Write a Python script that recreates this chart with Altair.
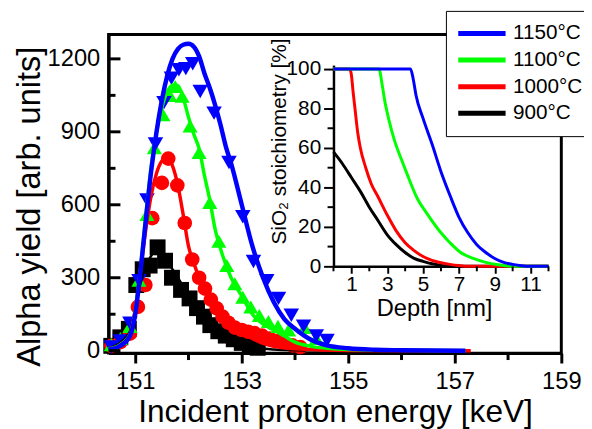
import altair as alt
import pandas as pd

FONT = "Liberation Sans"

# ---------------- series definitions ----------------
SERIES = ["1150°C", "1100°C", "1000°C", "900°C"]          # legend order
COLORS = ["#0000ff", "#00ff00", "#ff0000", "#000000"]
SHAPES = ["triangle-down", "triangle-up", "circle", "square"]
MSIZES = [260, 260, 220, 175]
LWIDTHS = [4.5, 3.5, 3.5, 2.5]
DRAW_ORDER = ["900°C", "1000°C", "1100°C", "1150°C"]

# ---------------- measured alpha yields (markers) ----------------
e_900 = [150.55, 150.72, 150.88, 151.02, 151.14, 151.27, 151.42, 151.56, 151.69,
         151.86, 152.02, 152.16, 152.29, 152.41, 152.56, 152.70, 152.85, 153.00,
         153.15, 153.30]
y_900 = [20, 55, 90, 270, 335, 350, 425, 370, 300, 250, 215, 175, 140, 105, 80,
         62, 47, 32, 20, 12]

e_1000 = [150.55, 150.72, 150.90, 151.05, 151.19, 151.32, 151.50, 151.62, 151.79,
          151.93, 152.07, 152.20, 152.31, 152.42, 152.53, 152.64, 152.75, 152.87,
          153.00, 153.12, 153.24, 153.38, 153.52, 153.66, 153.80, 153.95, 154.10]
y_1000 = [20, 35, 70, 180, 270, 545, 690, 790, 680, 525, 375, 300, 255, 210, 174,
          140, 115, 95, 85, 78, 72, 62, 50, 40, 30, 22, 15]

e_1100 = [150.55, 150.72, 150.90, 151.07, 151.22, 151.36, 151.52, 151.65, 151.75,
          151.88, 152.03, 152.20, 152.40, 152.57, 152.72, 152.87, 153.02, 153.17,
          153.33, 153.50, 153.68, 153.88, 154.18, 154.40]
y_1100 = [25, 50, 100, 290, 560, 835, 970, 1050, 1086, 1046, 924, 815, 610, 450,
          350, 275, 220, 180, 145, 120, 100, 85, 95, 50]

e_1150 = [150.55, 150.72, 150.90, 151.07, 151.22, 151.38, 151.54, 151.68, 151.82,
          151.95, 152.08, 152.22, 152.48, 152.76, 153.02, 153.22, 153.47, 153.69,
          153.93, 154.16, 154.40, 154.60]
y_1150 = [15, 40, 113, 288, 620, 850, 1020, 1120, 1155, 1160, 1180, 1066, 977, 774,
          551, 367, 288, 215, 146, 101, 61, 42]

# ---------------- fitted curves (lines) ----------------
fe_900 = [150.5, 150.7, 150.9, 151.0, 151.1, 151.2, 151.3, 151.4, 151.5, 151.6,
          151.8, 152.0, 152.2, 152.4, 152.6, 152.8, 153.0, 153.3, 153.6, 154.0, 155.0]
fy_900 = [10, 30, 80, 170, 280, 350, 390, 420, 410, 370, 300, 230, 170, 120, 80,
          50, 30, 12, 5, 2, 0]

fe_1000 = [150.5, 150.7, 150.9, 151.0, 151.1, 151.2, 151.3, 151.4, 151.5, 151.6,
           151.7, 151.8, 151.9, 152.0, 152.1, 152.2, 152.4, 152.6, 152.8, 153.0,
           153.2, 153.4, 153.6, 154.0, 154.5, 155.0, 157.3]
fy_1000 = [8, 22, 65, 170, 330, 500, 640, 730, 780, 795, 760, 680, 560, 430, 360,
           300, 215, 160, 115, 80, 50, 30, 18, 8, 3, 1, 0]

fe_1100 = [150.5, 150.7, 150.9, 151.0, 151.1, 151.2, 151.3, 151.4, 151.5, 151.6,
           151.7, 151.8, 151.9, 152.0, 152.1, 152.2, 152.3, 152.4, 152.5, 152.6,
           152.8, 153.0, 153.2, 153.4, 153.6, 153.8, 154.0, 154.3, 154.6, 155.0,
           156.0, 157.2]
fy_1100 = [8, 22, 65, 160, 340, 560, 760, 900, 1000, 1065, 1092, 1090, 1040, 960,
           890, 830, 720, 620, 500, 420, 300, 225, 150, 110, 85, 60, 35, 18, 10, 5,
           2, 0]

fe_1150 = [150.5, 150.7, 150.9, 151.0, 151.1, 151.2, 151.3, 151.4, 151.5, 151.6,
           151.7, 151.8, 151.9, 152.0, 152.1, 152.2, 152.3, 152.4, 152.5, 152.6,
           152.7, 152.8, 153.0, 153.2, 153.4, 153.6, 153.8, 154.0, 154.3, 154.6,
           155.0, 155.5, 156.0, 157.2]
fy_1150 = [5, 18, 60, 150, 330, 540, 740, 900, 1030, 1130, 1200, 1240, 1258, 1262,
           1250, 1210, 1140, 1080, 1010, 930, 840, 770, 600, 430, 300, 200, 130, 90,
           45, 22, 10, 4, 2, 0]

# ---------------- inset: SiO2 stoichiometry vs depth ----------------
d_900 = [0, 0.5, 1.0, 1.5, 2.0, 2.5, 3.0, 3.5, 4.0, 4.5, 5.0, 5.5, 6.0, 6.5, 12]
s_900 = [58, 52, 45, 38, 30, 23, 16, 11, 7, 4, 2.5, 1.3, 0.6, 0, 0]

d_1000 = [0, 0.9, 1.0, 1.1, 1.2, 1.35, 1.5, 1.8, 2.1, 2.5, 3.0, 3.5, 4.0, 4.5, 5.0,
          5.5, 6.0, 6.5, 7.0, 7.5, 12]
s_1000 = [100, 100, 97, 88, 80, 68, 60, 50, 42, 35, 26, 18, 12, 8, 5, 3, 1.8, 1,
          0.4, 0, 0]

d_1100 = [0, 2.55, 2.7, 2.86, 3.1, 3.4, 3.8, 4.1, 4.7, 5.2, 6.0, 6.5, 7.1, 7.8, 8.5,
          9.2, 10, 12]
s_1100 = [100, 100, 93, 84, 74, 64, 54, 47, 34, 27, 17, 12, 7, 4, 2, 0.8, 0, 0]

d_1150 = [0, 4.3, 4.45, 4.6, 5.0, 5.5, 6.0, 6.5, 7.0, 7.5, 8.0, 8.5, 9.0, 9.5, 10.0,
          10.5, 11, 12]
s_1150 = [100, 100, 95, 87, 75, 62, 48, 36, 25, 17, 11, 7, 4, 2, 1, 0.3, 0, 0]

# axis tick values
x_major = [151, 153, 155, 157, 159]
x_minor = [152, 154, 156, 158]
y_major = [0, 300, 600, 900, 1200]
y_minor = [150, 450, 750, 1050]
inset_x_major = [1, 3, 5, 7, 9, 11]
inset_x_minor = [0, 2, 4, 6, 8, 10, 12]
inset_y_major = [0, 20, 40, 60, 80, 100]
inset_y_minor = [10, 30, 50, 70, 90]

# ---------------- build tables ----------------
pts = {"900°C": (e_900, y_900), "1000°C": (e_1000, y_1000),
       "1100°C": (e_1100, y_1100), "1150°C": (e_1150, y_1150)}
fits = {"900°C": (fe_900, fy_900), "1000°C": (fe_1000, fy_1000),
        "1100°C": (fe_1100, fy_1100), "1150°C": (fe_1150, fy_1150)}
ins = {"900°C": (d_900, s_900), "1000°C": (d_1000, s_1000),
       "1100°C": (d_1100, s_1100), "1150°C": (d_1150, s_1150)}

pts_df = pd.DataFrame([{"T": t, "E": e, "Y": y} for t in DRAW_ORDER
                       for e, y in zip(*pts[t])])

# ranges for data-driven (alphabetically sorted) nominal domains
SORTED = sorted(SERIES)
S_COLORS = [COLORS[SERIES.index(s)] for s in SORTED]
S_SHAPES = [SHAPES[SERIES.index(s)] for s in SORTED]
S_SIZES = [MSIZES[SERIES.index(s)] for s in SORTED]

W, H = 459, 323


def xs():
    return alt.Scale(domain=[150.5, 159], nice=False, zero=False)


def ys():
    return alt.Scale(domain=[-10, 1300], nice=False, zero=False)


def ixs():
    return alt.Scale(domain=[0, 12], range=[228, 446], nice=False, zero=False)


def iys():
    return alt.Scale(domain=[0, 102], range=[235, 31], nice=False, zero=False)


def cs():
    return alt.Scale(domain=SERIES, range=COLORS)


x_axis = alt.Axis(orient="bottom", values=x_major, format="d", tickSize=10,
                  tickWidth=3, labelFontSize=24, labelPadding=7, labelFlush=False,
                  labelOverlap=False, domainWidth=3,
                  title="Incident proton energy [keV]", titleFontSize=32,
                  titleX=W / 2, titleY=69, titleBaseline="alphabetic",
                  titleAlign="center")
y_axis = alt.Axis(orient="left", values=y_major, format="d", ticks=False,
                  labelPadding=9, labelFontSize=24, labelFlush=False,
                  labelOverlap=False, domainWidth=3,
                  title="Alpha yield [arb. units]", titleFontSize=33,
                  titleX=-70, titleY=174, titleBaseline="alphabetic",
                  titleAlign="center")

layers = []

points = alt.Chart(pts_df).mark_point(filled=True, opacity=1, strokeWidth=0).encode(
    x=alt.X("E:Q", scale=xs(), axis=x_axis),
    y=alt.Y("Y:Q", scale=ys(), axis=y_axis),
    fill=alt.Fill("T:N", scale=alt.Scale(range=S_COLORS), legend=None),
    shape=alt.Shape("T:N", scale=alt.Scale(range=S_SHAPES), legend=None),
    size=alt.Size("T:N", scale=alt.Scale(range=S_SIZES), legend=None),
)
layers.append(points)


def make_legend():
    return alt.Legend(orient="none", legendX=342, legendY=-24, direction="vertical",
                      title=None, symbolType="stroke", symbolSize=2304,
                      symbolStrokeWidth=5, clipHeight=25.7, rowPadding=1,
                      labelFontSize=21, labelOffset=5, padding=10,
                      strokeColor="black", fillColor="white", labelLimit=200)


for t in DRAW_ORDER:
    fdf = pd.DataFrame({"T": t, "E": fits[t][0], "Y": fits[t][1]})
    layers.append(
        alt.Chart(fdf).mark_line(interpolate="monotone",
                                 strokeWidth=LWIDTHS[SERIES.index(t)]).encode(
            x=alt.X("E:Q", scale=xs(), axis=None),
            y=alt.Y("Y:Q", scale=ys(), axis=None),
            color=alt.Color("T:N", scale=cs(), legend=make_legend()),
        )
    )

layers.append(alt.Chart(pd.DataFrame({"v": x_minor})).mark_rule(
    color="black", strokeWidth=3).encode(
    x=alt.X("v:Q", scale=xs(), axis=None), y=alt.value(H), y2=alt.value(H + 7)))
layers.append(alt.Chart(pd.DataFrame({"v": y_major})).mark_rule(
    color="black", strokeWidth=3).encode(
    y=alt.Y("v:Q", scale=ys(), axis=None), x=alt.value(0), x2=alt.value(12)))
layers.append(alt.Chart(pd.DataFrame({"v": y_minor})).mark_rule(
    color="black", strokeWidth=3).encode(
    y=alt.Y("v:Q", scale=ys(), axis=None), x=alt.value(0), x2=alt.value(7)))

# ---------------- inset ----------------
ix_axis = alt.Axis(orient="bottom", offset=-88, values=inset_x_major, format="d",
                   tickSize=7, tickWidth=2, domainWidth=2.5, labelFontSize=21,
                   labelPadding=1, labelFlush=False, labelOverlap=False,
                   title="Depth [nm]", titleFontSize=24, titleX=330, titleY=50,
                   titleBaseline="alphabetic", titleAlign="center")
iy_axis = alt.Axis(orient="left", offset=-228, values=inset_y_major, format="d",
                   tickSize=10, tickWidth=2, domainWidth=2.5, labelFontSize=21,
                   labelPadding=3, labelFlush=False, labelOverlap=False,
                   title="SiO\u2082 stoichiometry [%]", titleFontSize=21,
                   titleX=-49, titleY=108, titleBaseline="alphabetic",
                   titleAlign="center")

for i, t in enumerate(DRAW_ORDER):
    idf = pd.DataFrame({"T": t, "d": ins[t][0], "s": ins[t][1]})
    layers.append(
        alt.Chart(idf).mark_line(interpolate="monotone", strokeWidth=3).encode(
            x=alt.X("d:Q", scale=ixs(), axis=ix_axis if i == 0 else None),
            y=alt.Y("s:Q", scale=iys(), axis=iy_axis if i == 0 else None),
            stroke=alt.Stroke("T:N", scale=alt.Scale(range=S_COLORS), legend=None),
        )
    )

layers.append(alt.Chart(pd.DataFrame({"v": inset_x_minor})).mark_rule(
    color="black", strokeWidth=2).encode(
    x=alt.X("v:Q", scale=ixs(), axis=None), y=alt.value(235), y2=alt.value(240)))
layers.append(alt.Chart(pd.DataFrame({"v": inset_y_minor})).mark_rule(
    color="black", strokeWidth=2).encode(
    y=alt.Y("v:Q", scale=iys(), axis=None), x=alt.value(222), x2=alt.value(228)))

chart = alt.layer(*layers).resolve_scale(
    x="independent", y="independent"
).properties(
    width=W, height=H,
    autosize=alt.AutoSizeParams(type="none"),
    padding={"left": 102, "top": 24, "right": 23, "bottom": 74},
).configure(font=FONT).configure_view(
    stroke="black", strokeWidth=3
).configure_axis(
    grid=False, labelFont=FONT, titleFont=FONT, labelColor="black",
    titleColor="black", tickColor="black", domainColor="black",
    titleFontWeight="normal"
).configure_legend(
    labelFont=FONT, labelColor="black"
)

chart.save("out.html", embed_options={"renderer": "svg", "actions": False})
